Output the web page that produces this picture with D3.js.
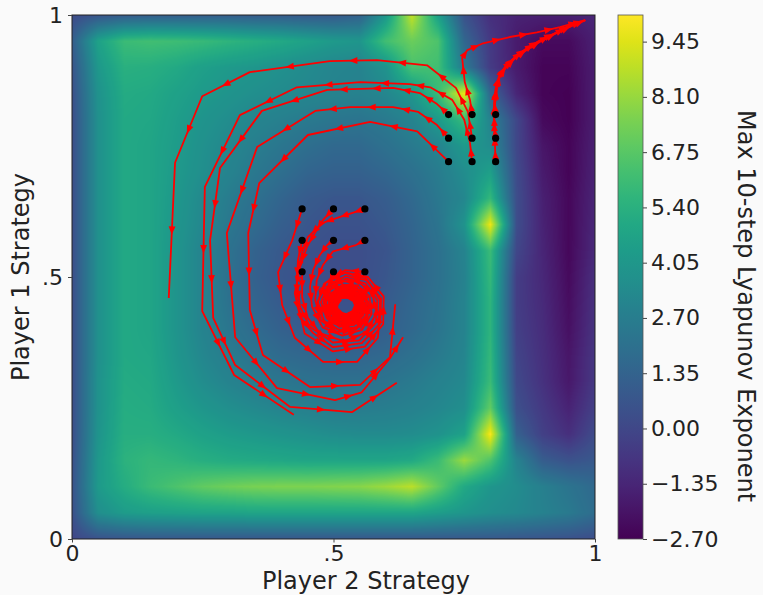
<!DOCTYPE html>
<html>
<head>
<meta charset="utf-8">
<script src="https://cdn.jsdelivr.net/npm/d3@7"></script>
<style>
    html, body { margin: 0; padding: 0; background: #fafafa; }
    svg { display: block; font-family: "DejaVu Sans", sans-serif; }
</style>
</head>
<body>
<svg id="chart" width="763" height="595"></svg>
<script>
// Grid of the Lyapunov map (columns = Player 2 strategy, rows = Player 1 strategy, top row first)
const gridU = [0, 0.05, 0.1, 0.15, 0.2, 0.25, 0.3, 0.35, 0.4, 0.45, 0.5, 0.55, 0.6, 0.65, 0.7, 0.75, 0.8, 0.85, 0.9, 0.95, 1];
const gridV = [1, 0.95, 0.9, 0.85, 0.8, 0.75, 0.7, 0.65, 0.6, 0.55, 0.5, 0.45, 0.4, 0.35, 0.3, 0.25, 0.2, 0.15, 0.1, 0.05, 0];
const lyapunov = [
    [0.2, 0.6, 0.9, 1.0, 1.0, 1.0, 1.0, 0.9, 0.9, 0.8, 0.8, 1.2, 4.0, 9.0, 4.5, 0.5, -1.0, -1.5, -1.6, -1.6, -1.4],
    [1.0, 4.6, 6.0, 6.2, 6.1, 5.9, 5.6, 5.3, 5.0, 4.6, 4.2, 4.0, 6.2, 7.2, 6.5, 1.5, -0.6, -1.8, -2.4, -2.4, -1.6],
    [0.6, 4.1, 5.4, 5.3, 5.0, 4.5, 4.2, 4.0, 3.7, 3.4, 3.1, 3.0, 3.8, 6.4, 6.2, 2.5, -0.5, -1.8, -2.6, -2.6, -1.7],
    [0.4, 3.8, 5.1, 5.0, 4.6, 4.2, 3.9, 3.6, 3.4, 3.2, 3.0, 2.9, 3.2, 4.0, 6.0, 9.8, 1.5, -1.4, -2.6, -2.7, -1.7],
    [0.3, 3.7, 5.0, 4.9, 4.4, 3.9, 3.5, 3.1, 2.8, 2.5, 2.3, 2.2, 2.5, 3.0, 4.2, 6.0, 3.0, 0.0, -2.4, -2.7, -1.7],
    [0.3, 3.7, 5.0, 4.8, 4.3, 3.7, 3.2, 2.7, 2.3, 1.9, 1.6, 1.6, 2.0, 2.5, 3.0, 4.2, 3.5, 0.0, -2.0, -2.6, -1.6],
    [0.3, 3.7, 5.0, 4.8, 4.2, 3.6, 3.0, 2.4, 1.9, 1.4, 1.2, 1.2, 1.5, 2.0, 2.6, 3.5, 4.5, 0.2, -1.8, -2.6, -1.5],
    [0.3, 3.7, 5.0, 4.8, 4.1, 3.3, 2.6, 2.0, 1.4, 0.9, 0.7, 0.7, 1.0, 1.6, 2.4, 3.2, 5.8, 0.3, -1.6, -2.5, -1.4],
    [0.3, 3.7, 5.0, 4.8, 4.0, 3.2, 2.4, 1.7, 1.1, 0.7, 0.5, 0.5, 0.8, 1.4, 2.2, 3.8, 9.8, 0.3, -1.5, -2.5, -1.3],
    [0.3, 3.7, 5.0, 4.8, 3.9, 3.0, 2.1, 1.3, 0.8, 0.5, 0.3, 0.3, 0.6, 1.3, 2.0, 3.0, 6.0, 0.0, -1.4, -2.5, -1.2],
    [0.3, 3.7, 5.0, 4.8, 3.9, 3.0, 2.0, 1.2, 0.7, 0.4, 0.3, 0.3, 0.7, 1.3, 2.0, 2.9, 5.8, -0.4, -1.3, -2.4, -1.0],
    [0.3, 3.7, 5.0, 4.8, 3.9, 3.0, 2.1, 1.4, 0.9, 0.6, 0.5, 0.5, 0.9, 1.5, 2.1, 3.0, 5.6, -0.4, -1.2, -2.3, -0.9],
    [0.3, 3.7, 5.0, 4.8, 3.9, 3.0, 2.3, 1.7, 1.2, 0.9, 0.8, 0.8, 1.1, 1.6, 2.2, 3.0, 5.6, -0.3, -1.1, -2.2, -0.8],
    [0.3, 3.7, 5.0, 4.9, 4.0, 3.2, 2.6, 2.1, 1.7, 1.5, 1.4, 1.4, 1.6, 2.0, 2.5, 3.1, 5.8, -0.1, -1.0, -2.0, -0.7],
    [0.3, 3.8, 5.1, 5.0, 4.2, 3.5, 3.0, 2.6, 2.3, 2.1, 2.0, 2.0, 2.2, 2.5, 2.9, 3.3, 6.0, 0.1, -0.9, -1.9, -0.6],
    [0.3, 3.8, 5.2, 5.1, 4.5, 4.0, 3.6, 3.3, 3.0, 2.8, 2.6, 2.6, 2.7, 2.9, 3.2, 3.6, 7.0, 0.4, -0.6, -1.5, -0.3],
    [0.3, 3.9, 5.3, 5.3, 5.0, 4.6, 4.3, 4.1, 3.9, 3.7, 3.5, 3.4, 3.4, 3.5, 3.8, 4.6, 10.0, 1.2, -0.3, -1.0, 0.2],
    [0.4, 4.1, 5.5, 5.8, 5.6, 5.3, 5.1, 5.0, 4.9, 4.8, 4.8, 4.8, 4.8, 5.0, 6.0, 8.2, 6.5, 3.0, 1.0, 0.5, 0.8],
    [0.5, 4.2, 5.2, 6.0, 6.5, 7.0, 7.3, 7.5, 7.6, 7.6, 7.7, 7.8, 8.2, 8.8, 7.0, 5.0, 4.0, 3.5, 2.8, 2.2, 1.6],
    [0.4, 3.6, 4.3, 4.5, 4.6, 4.7, 4.7, 4.8, 4.8, 4.8, 4.8, 4.8, 4.8, 4.8, 4.4, 4.0, 3.6, 3.3, 2.9, 2.5, 1.8],
    [0.0, 0.5, 0.7, 0.8, 0.8, 0.8, 0.8, 0.8, 0.8, 0.8, 0.8, 0.8, 0.8, 0.8, 0.8, 0.8, 0.8, 0.7, 0.6, 0.5, 0.3]
];

const axisTicks = [0, 0.5, 1];
const axisTickLabels = ['0', '.5', '1'];
const cbarTicks = [-2.70, -1.35, 0.00, 1.35, 2.70, 4.05, 5.40, 6.75, 8.10, 9.45];
const cbarMin = -2.70;
const cbarMax = 10.1;

// starting points [player 2, player 1]
const startPoints = [
    [0.44, 0.63], [0.50, 0.63], [0.56, 0.63],
    [0.44, 0.57], [0.50, 0.57], [0.56, 0.57],
    [0.44, 0.51], [0.50, 0.51], [0.56, 0.51],
    [0.72, 0.81], [0.765, 0.81], [0.81, 0.81],
    [0.72, 0.765], [0.765, 0.765], [0.81, 0.765],
    [0.72, 0.72], [0.765, 0.72], [0.81, 0.72]
];

// learning trajectories
const outerArc1 = [[0.765, 0.765], [0.757, 0.815], [0.734, 0.861], [0.679, 0.904], [0.583, 0.914], [0.493, 0.912], [0.340, 0.891], [0.249, 0.845], [0.197, 0.718], [0.185, 0.460]];
const outerArc2 = [[0.765, 0.72], [0.761, 0.756], [0.750, 0.800], [0.727, 0.838], [0.685, 0.862], [0.646, 0.868], [0.551, 0.872], [0.430, 0.862], [0.321, 0.809], [0.254, 0.672], [0.249, 0.435], [0.310, 0.313], [0.424, 0.237]];
const outerArc3 = [[0.72, 0.81], [0.698, 0.830], [0.665, 0.851], [0.614, 0.861], [0.551, 0.859], [0.488, 0.857], [0.363, 0.817], [0.283, 0.708], [0.264, 0.570], [0.270, 0.422], [0.312, 0.332], [0.417, 0.252], [0.535, 0.242], [0.621, 0.298]];
const outerArc4 = [[0.72, 0.765], [0.698, 0.790], [0.662, 0.815], [0.614, 0.824], [0.532, 0.824], [0.465, 0.817], [0.354, 0.748], [0.296, 0.584], [0.312, 0.385], [0.392, 0.288], [0.503, 0.265], [0.554, 0.280], [0.608, 0.345], [0.633, 0.385]];
const outerArc5 = [[0.72, 0.72], [0.660, 0.778], [0.570, 0.796], [0.451, 0.771], [0.358, 0.679], [0.337, 0.584], [0.340, 0.437], [0.365, 0.351], [0.455, 0.290], [0.551, 0.294], [0.608, 0.347], [0.618, 0.448]];

const cornerPath1 = [[0.765, 0.81], [0.761, 0.838], [0.751, 0.872], [0.746, 0.918], [0.756, 0.933], [0.786, 0.946], [0.837, 0.958], [0.889, 0.967], [0.933, 0.977], [0.981, 0.990]];
const cornerPath2 = [[0.81, 0.72], [0.809, 0.745], [0.808, 0.772], [0.807, 0.800], [0.809, 0.832], [0.813, 0.862], [0.818, 0.885], [0.828, 0.901], [0.847, 0.920], [0.870, 0.937], [0.895, 0.952], [0.927, 0.967], [0.952, 0.981], [0.981, 0.990]];
const cornerPath3 = [[0.81, 0.765], [0.808, 0.785], [0.807, 0.807], [0.807, 0.830], [0.810, 0.860], [0.816, 0.882], [0.826, 0.898], [0.842, 0.915], [0.862, 0.931], [0.888, 0.947], [0.918, 0.962], [0.948, 0.977], [0.981, 0.990]];
const cornerPath4 = [[0.81, 0.81], [0.808, 0.835], [0.811, 0.862], [0.818, 0.882], [0.830, 0.900], [0.848, 0.918], [0.872, 0.935], [0.900, 0.952], [0.930, 0.967], [0.958, 0.980], [0.982, 0.990]];

const spiralA = [[0.44, 0.63], [0.421, 0.570], [0.394, 0.509], [0.402, 0.446], [0.426, 0.384], [0.480, 0.338], [0.545, 0.338], [0.585, 0.384], [0.589, 0.456], [0.562, 0.498], [0.518, 0.509], [0.482, 0.487], [0.469, 0.449], [0.483, 0.414], [0.513, 0.398], [0.545, 0.405], [0.563, 0.428], [0.562, 0.456], [0.545, 0.475], [0.521, 0.479], [0.502, 0.467], [0.495, 0.447], [0.502, 0.429], [0.519, 0.420], [0.536, 0.423], [0.545, 0.436], [0.544, 0.451], [0.535, 0.460], [0.523, 0.462]];
const spiralB = [[0.50, 0.63], [0.480, 0.609], [0.468, 0.590], [0.449, 0.557], [0.436, 0.519], [0.426, 0.469], [0.436, 0.424], [0.461, 0.393], [0.499, 0.366], [0.554, 0.374], [0.589, 0.411], [0.591, 0.459], [0.563, 0.494], [0.523, 0.502], [0.490, 0.484], [0.476, 0.452], [0.487, 0.421], [0.512, 0.405], [0.540, 0.409], [0.557, 0.428], [0.557, 0.452], [0.544, 0.469], [0.524, 0.474], [0.507, 0.465], [0.500, 0.448], [0.505, 0.433], [0.519, 0.425], [0.532, 0.427], [0.541, 0.437], [0.541, 0.448]];
const spiralC = [[0.56, 0.63], [0.535, 0.622], [0.507, 0.613], [0.478, 0.603], [0.451, 0.576], [0.440, 0.546], [0.430, 0.500], [0.430, 0.456], [0.445, 0.392], [0.499, 0.358], [0.560, 0.367], [0.595, 0.410], [0.596, 0.463], [0.566, 0.500], [0.523, 0.509], [0.486, 0.490], [0.470, 0.453], [0.481, 0.417], [0.510, 0.399], [0.543, 0.402], [0.563, 0.424], [0.564, 0.452], [0.549, 0.474], [0.526, 0.481], [0.505, 0.472], [0.496, 0.452], [0.502, 0.431], [0.517, 0.421], [0.534, 0.424], [0.544, 0.435], [0.544, 0.449], [0.535, 0.458]];
const spiralD = [[0.44, 0.57], [0.432, 0.532], [0.430, 0.489], [0.436, 0.443], [0.455, 0.405], [0.499, 0.375], [0.549, 0.379], [0.581, 0.413], [0.584, 0.455], [0.561, 0.488], [0.525, 0.497], [0.494, 0.482], [0.481, 0.453], [0.489, 0.424], [0.512, 0.408], [0.537, 0.411], [0.554, 0.428], [0.556, 0.450], [0.544, 0.467], [0.525, 0.472], [0.509, 0.464], [0.502, 0.449], [0.507, 0.435], [0.519, 0.427], [0.531, 0.428], [0.539, 0.437]];
const spiralE = [[0.50, 0.57], [0.488, 0.561], [0.474, 0.542], [0.461, 0.513], [0.455, 0.481], [0.459, 0.443], [0.479, 0.404], [0.517, 0.388], [0.554, 0.399], [0.573, 0.430], [0.569, 0.463], [0.546, 0.484], [0.516, 0.485], [0.495, 0.468], [0.490, 0.444], [0.500, 0.423], [0.521, 0.414], [0.540, 0.420], [0.551, 0.437], [0.548, 0.454], [0.536, 0.465], [0.521, 0.466], [0.510, 0.457], [0.507, 0.444]];
const spiralF = [[0.56, 0.57], [0.543, 0.561], [0.499, 0.549], [0.480, 0.523], [0.468, 0.494], [0.465, 0.456], [0.476, 0.417], [0.507, 0.395], [0.542, 0.399], [0.565, 0.422], [0.567, 0.452], [0.551, 0.476], [0.525, 0.482], [0.503, 0.472], [0.493, 0.451], [0.498, 0.430], [0.515, 0.418], [0.534, 0.420], [0.547, 0.432], [0.548, 0.449], [0.538, 0.461], [0.525, 0.464], [0.513, 0.459]];
const spiralG = [[0.44, 0.51], [0.44, 0.462], [0.451, 0.422], [0.474, 0.393], [0.520, 0.377], [0.562, 0.394], [0.582, 0.431], [0.574, 0.469], [0.546, 0.492], [0.512, 0.491], [0.488, 0.470], [0.483, 0.441], [0.498, 0.417], [0.522, 0.409], [0.545, 0.417], [0.556, 0.437], [0.552, 0.458], [0.536, 0.471], [0.518, 0.470], [0.505, 0.458], [0.503, 0.443], [0.511, 0.431], [0.524, 0.426]];
const spiralH = [[0.50, 0.51], [0.493, 0.494], [0.484, 0.456], [0.488, 0.424], [0.511, 0.406], [0.538, 0.408], [0.557, 0.427], [0.559, 0.451], [0.546, 0.470], [0.525, 0.476], [0.506, 0.467], [0.497, 0.450], [0.502, 0.432], [0.516, 0.421], [0.533, 0.422], [0.544, 0.434], [0.545, 0.448], [0.537, 0.460], [0.525, 0.462]];
const spiralI = [[0.56, 0.51], [0.522, 0.513], [0.499, 0.500], [0.488, 0.475], [0.486, 0.446], [0.496, 0.422], [0.518, 0.411], [0.540, 0.416], [0.554, 0.433], [0.553, 0.454], [0.540, 0.469], [0.521, 0.472], [0.506, 0.462], [0.501, 0.446], [0.508, 0.431], [0.521, 0.425], [0.534, 0.428], [0.541, 0.439]];

const trajectories = [
    outerArc1, outerArc2, outerArc3, outerArc4, outerArc5,
    cornerPath1, cornerPath2, cornerPath3, cornerPath4,
    spiralA, spiralB, spiralC, spiralD, spiralE, spiralF, spiralG, spiralH, spiralI
];

// Layout
const plot = { left: 72, top: 15, width: 523, height: 524 };
const cbar = { left: 618, top: 15, width: 25, height: 524 };

const svg = d3.select('#chart');

const xScale = d3.scaleLinear().domain([0, 1]).range([plot.left, plot.left + plot.width]);
const yScale = d3.scaleLinear().domain([0, 1]).range([plot.top + plot.height, plot.top]);

// Heatmap drawn like a bilinear imshow of the grid
const nx = gridU.length;
const ny = gridV.length;
const iScale = d3.scaleLinear().domain([gridU[0], gridU[nx - 1]]).range([0, nx - 1]).clamp(true);
const jScale = d3.scaleLinear().domain([gridV[0], gridV[ny - 1]]).range([0, ny - 1]).clamp(true);
const lut = d3.range(256).map(k => d3.rgb(d3.interpolateViridis(k / 255)));

const canvas = document.createElement('canvas');
canvas.width = plot.width;
canvas.height = plot.height;
const ctx = canvas.getContext('2d');
const img = ctx.createImageData(plot.width, plot.height);
for (let py = 0; py < plot.height; py++) {
    const fj = jScale(yScale.invert(plot.top + py + 0.5));
    const j0 = Math.min(Math.floor(fj), ny - 2);
    const tj = fj - j0;
    for (let px = 0; px < plot.width; px++) {
        const fi = iScale(xScale.invert(plot.left + px + 0.5));
        const i0 = Math.min(Math.floor(fi), nx - 2);
        const ti = fi - i0;
        const top = lyapunov[j0][i0] * (1 - ti) + lyapunov[j0][i0 + 1] * ti;
        const bot = lyapunov[j0 + 1][i0] * (1 - ti) + lyapunov[j0 + 1][i0 + 1] * ti;
        const val = top * (1 - tj) + bot * tj;
        const t = Math.max(0, Math.min(1, (val - cbarMin) / (cbarMax - cbarMin)));
        const c = lut[Math.round(t * 255)];
        const k = (py * plot.width + px) * 4;
        img.data[k] = c.r;
        img.data[k + 1] = c.g;
        img.data[k + 2] = c.b;
        img.data[k + 3] = 255;
    }
}
ctx.putImageData(img, 0, 0);

svg.append('image')
    .attr('x', plot.left)
    .attr('y', plot.top)
    .attr('width', plot.width)
    .attr('height', plot.height)
    .attr('preserveAspectRatio', 'none')
    .attr('href', canvas.toDataURL());

// Trajectories
const line = d3.line().x(d => xScale(d[0])).y(d => yScale(d[1]));
const trajGroup = svg.append('g');

trajGroup.selectAll('path.traj')
    .data(trajectories)
    .enter()
    .append('path')
    .attr('class', 'traj')
    .attr('d', line)
    .attr('fill', 'none')
    .attr('stroke', '#ff0000')
    .attr('stroke-width', 1.8)
    .attr('stroke-linejoin', 'round');

// arrow head in the middle of each step
const steps = [];
trajectories.forEach(t => {
    for (let i = 0; i < t.length - 1; i++) steps.push([t[i], t[i + 1]]);
});

trajGroup.selectAll('path.head')
    .data(steps)
    .enter()
    .append('path')
    .attr('class', 'head')
    .attr('d', 'M4.5,0 L-4,-3.4 L-4,3.4 Z')
    .attr('fill', '#ff0000')
    .attr('transform', d => {
        const x0 = xScale(d[0][0]), y0 = yScale(d[0][1]);
        const x1 = xScale(d[1][0]), y1 = yScale(d[1][1]);
        const ang = Math.atan2(y1 - y0, x1 - x0) * 180 / Math.PI;
        return `translate(${(x0 + x1) / 2},${(y0 + y1) / 2}) rotate(${ang})`;
    });

svg.append('g')
    .selectAll('circle')
    .data(startPoints)
    .enter()
    .append('circle')
    .attr('cx', d => xScale(d[0]))
    .attr('cy', d => yScale(d[1]))
    .attr('r', 3.6)
    .attr('fill', '#000');

// Frame
svg.append('rect')
    .attr('x', plot.left)
    .attr('y', plot.top)
    .attr('width', plot.width)
    .attr('height', plot.height)
    .attr('fill', 'none')
    .attr('stroke', '#222')
    .attr('stroke-width', 1);

// Axes
const xAxis = d3.axisBottom(xScale).tickValues(axisTicks).tickFormat((d, i) => axisTickLabels[i]).tickSize(3.5).tickPadding(3);
const yAxis = d3.axisLeft(yScale).tickValues(axisTicks).tickFormat((d, i) => axisTickLabels[i]).tickSize(4).tickPadding(5);

const gx = svg.append('g')
    .attr('transform', `translate(0,${plot.top + plot.height})`)
    .call(xAxis);
const gy = svg.append('g')
    .attr('transform', `translate(${plot.left},0)`)
    .call(yAxis);

[gx, gy].forEach(g => {
    g.select('.domain').remove();
    g.selectAll('line').attr('stroke', '#444');
    g.selectAll('text')
        .attr('fill', '#222')
        .style('font-family', '"DejaVu Sans", sans-serif')
        .style('font-size', '22px');
});

svg.append('text')
    .attr('x', 366)
    .attr('y', 589)
    .attr('text-anchor', 'middle')
    .attr('fill', '#222')
    .style('font-size', '24px')
    .text('Player 2 Strategy');

svg.append('text')
    .attr('transform', 'translate(29,277) rotate(-90)')
    .attr('text-anchor', 'middle')
    .attr('fill', '#222')
    .style('font-size', '24px')
    .text('Player 1 Strategy');

// Colorbar
const cbScale = d3.scaleLinear().domain([cbarMin, cbarMax]).range([cbar.top + cbar.height, cbar.top]);
const grad = svg.append('defs')
    .append('linearGradient')
    .attr('id', 'cbGrad')
    .attr('x1', 0).attr('y1', 1)
    .attr('x2', 0).attr('y2', 0);
d3.range(0, 1.0001, 0.05).forEach(t => {
    grad.append('stop')
        .attr('offset', t)
        .attr('stop-color', d3.interpolateViridis(t));
});

svg.append('rect')
    .attr('x', cbar.left)
    .attr('y', cbar.top)
    .attr('width', cbar.width)
    .attr('height', cbar.height)
    .attr('fill', 'url(#cbGrad)')
    .attr('stroke', '#555')
    .attr('stroke-width', 0.8);

const cbAxis = d3.axisRight(cbScale)
    .tickValues(cbarTicks)
    .tickFormat(d => d3.format('.2f')(d).replace('-', '\u2212'))
    .tickSize(4)
    .tickPadding(4);

const gc = svg.append('g')
    .attr('transform', `translate(${cbar.left + cbar.width},0)`)
    .call(cbAxis);
gc.select('.domain').remove();
gc.selectAll('line').attr('stroke', '#444');
gc.selectAll('text')
    .attr('fill', '#222')
    .style('font-family', '"DejaVu Sans", sans-serif')
    .style('font-size', '22px');

svg.append('text')
    .attr('transform', 'translate(738,306) rotate(90)')
    .attr('text-anchor', 'middle')
    .attr('fill', '#222')
    .style('font-size', '24px')
    .text('Max 10-step Lyapunov Exponent');
</script>
</body>
</html>
